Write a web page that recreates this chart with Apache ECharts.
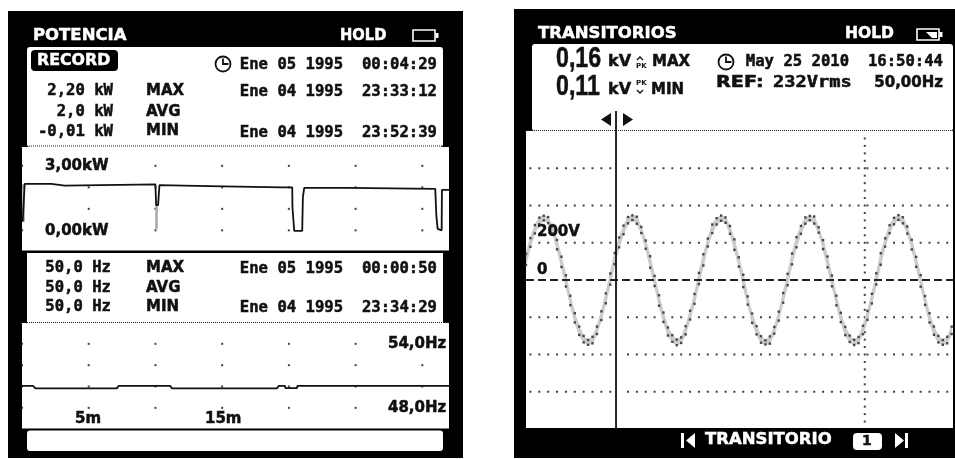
<!DOCTYPE html>
<html>
<head>
<meta charset="utf-8">
<style>html,body{margin:0;padding:0;background:#fff}#c{width:955px;height:459px}</style>
<script src="https://cdn.jsdelivr.net/npm/echarts@6/dist/echarts.min.js"></script>
</head>
<body>
<div id="c"></div>
<script>
// ---- Power trace (minutes, kW)
const kwMinutes = [0.05,0.15,0.2,2.2,2.3,3.2,3.3,10.0,10.05,10.2,10.3,14,19.5,20.25,20.27,20.35,20.4,21.0,21.05,21.15,24.45,24.55,30.97,31.05,31.15,31.25,31.45,31.47,32];
const kwValues  = [0.4,0.4,2.16,2.16,2.08,2.08,2.16,2.14,1.18,1.18,2.1,2.06,2.0,2.0,1.05,1.05,-0.02,-0.02,1.55,1.98,1.98,1.93,1.93,0.7,0.07,0,0,1.88,1.88];
const kwGreyMinutes = [0.12,0.12,null,10.08,10.08];
const kwGreyValues  = [2.16,0.4,null,1.18,0.05];
// ---- Frequency trace (minutes, Hz)
const hzMinutes = [0,0.83,1,7.1,7.25,11.1,11.25,19.1,19.25,19.7,19.75,20.6,20.65,32];
const hzValues  = [50.06,50.06,49.83,49.83,50.06,50.06,49.83,49.83,50.06,50.06,49.85,49.85,50.06,50.06];
// ---- Transient waveform (ms, upper and lower envelope in V)
const waveMs = [];
for (let i = 0; i <= 96; i++) waveMs.push(i);
const waveHi = [140,225,295,335,345,338,288,215,125,25,-85,-178,-250,-300,-322,-305,-250,-168,-72,35,
  145,228,292,338,347,340,285,212,128,22,-82,-175,-255,-296,-320,-308,-248,-165,-75,38,
  138,222,298,332,346,336,290,218,122,28,-88,-180,-248,-302,-324,-303,-252,-170,-70,33,
  142,230,290,336,344,341,283,214,126,24,-84,-176,-252,-298,-321,-306,-246,-166,-74,36,
  144,224,294,334,348,337,287,216,124,26,-86,-178,-250,-300,-322,-305,-250];
const waveLo = [80,178,250,300,320,305,250,165,70,-35,-135,-228,-295,-335,-348,-340,-290,-215,-125,-25,
  85,175,246,304,322,302,252,168,66,-32,-138,-225,-298,-332,-350,-338,-292,-212,-128,-22,
  78,180,252,298,318,307,248,162,72,-38,-132,-230,-292,-337,-346,-342,-288,-218,-122,-28,
  84,176,248,302,321,303,254,166,68,-34,-136,-226,-296,-333,-349,-339,-291,-214,-126,-24,
  82,179,251,299,323,304,249,164,71,-36,-134,-228,-294,-335,-348,-340,-290];
// ---- Axis marks
const gridMinutes = [0,5,10,15,20,25,30];
const kwRows = [3,2,1,0];
const hzRows = [54,52,50,48];
const voltRows = [600,400,200,-200,-400,-600];
const cursorMs = 20.3;
const holdMs = 76.4;

// ---- Text
const texts = {
  leftTitle:'POTENCIA', rightTitle:'TRANSITORIOS', hold:'HOLD', record:'RECORD',
  stamp1:'Ene 05 1995  00:04:29', stamp2:'Ene 04 1995  23:33:12', stamp3:'Ene 04 1995  23:52:39',
  stamp4:'Ene 05 1995  00:00:50', stamp5:'Ene 04 1995  23:34:29', stamp6:'May 25 2010  16:50:44'
};
const powerLabels = ['2,20 kW','2,0 kW','-0,01 kW'];
const freqLabels = ['50,0 Hz','50,0 Hz','50,0 Hz'];
const statLabels = ['MAX','AVG','MIN'];
const kwTicks = ['3,00kW','0,00kW'];
const hzTicks = ['54,0Hz','48,0Hz'];
const timeTicks = ['5m','15m'];
const voltTicks = ['200V','0'];

const MONO = "'DejaVu Sans Mono'";
const SANS = "'DejaVu Sans'";
const INK = '#111';
const g = [];
function rect(x,y,w,h,fill,r,z){g.push({type:'rect',z:z||0,silent:true,shape:{x,y,width:w,height:h,r:r||0},style:{fill}});}
function txt(text,x,y,font,fill,align,sx,boldW){
  const c=fill||INK;
  g.push({type:'text',z:10,silent:true,x,y,scaleX:sx||1,style:{text,font,fill:c,stroke:c,lineWidth:boldW===undefined?0.5:boldW,textAlign:align||'left',textVerticalAlign:'middle'}});
}
function mono(text,x,y){txt(text,x,y,'bold 15.6px '+MONO,INK,'right');}
function sans(text,x,y,size,fill,align){txt(text,x,y,'bold '+size+'px '+SANS,fill,align);}
function poly(points,fill){g.push({type:'polygon',z:11,silent:true,shape:{points},style:{fill}});}
function pline(points,stroke,w,dash){g.push({type:'polyline',z:dash?1:11,silent:true,shape:{points},style:{stroke,fill:null,lineWidth:w,lineDash:dash||null}});}
function clock(cx,cy){
  g.push({type:'circle',z:11,silent:true,shape:{cx,cy,r:7.5},style:{fill:'#fff',stroke:INK,lineWidth:1.8}});
  pline([[cx,cy-5.5],[cx,cy],[cx+5.5,cy]],INK,1.8);
}
function battery(x,y,fillIt){
  g.push({type:'rect',z:11,silent:true,shape:{x,y,width:22,height:11},style:{fill:'#000',stroke:'#fff',lineWidth:1.6}});
  rect(x+22.5,y+3,3,5,'#fff',0,11);
  if(fillIt) poly([[x+9,y+3],[x+20,y+3],[x+20,y+9],[x+15,y+9]],'#fff');
}

// Left instrument
rect(8,11,455,447,'#000');
sans(texts.leftTitle,33,36,16.5,'#fff');
txt(texts.hold,340,36,'bold 15.5px '+SANS,'#fff','left',0.95);
battery(413,30,false);
rect(27,47,416,100,'#fff',3);
rect(31,50,87,21,'#000',4,5);
sans(texts.record,37,61,15.8,'#fff');
clock(223,64);
mono(texts.stamp1,437,65);
mono(texts.stamp2,437,92);
mono(texts.stamp3,437,133);
mono(powerLabels[0],113,91);mono(powerLabels[1],113,112);mono(powerLabels[2],113,132);
statLabels.forEach((s,i)=>sans(s,146,[91,112,131][i],15));
pline([[29,146],[443,146]],'#222',1.2,[1,1]);
rect(22,147,427,103.6,'#fff');
sans(kwTicks[0],45,166,15);sans(kwTicks[1],45,231,15);
rect(27,253,416,70,'#fff');
mono(freqLabels[0],111,268);mono(freqLabels[1],111,288);mono(freqLabels[2],111,307);
statLabels.forEach((s,i)=>sans(s,146,[268,288,307][i],15));
mono(texts.stamp4,437,269);mono(texts.stamp5,437,308);
rect(22,323,427,105.6,'#fff');
pline([[27,322.5],[449,322.5]],'#222',1.2,[1,1]);
sans(hzTicks[0],388,344,15);sans(hzTicks[1],388,408,15);
sans(timeTicks[0],75,419,15);sans(timeTicks[1],205,419,15);
rect(27,430.5,416,20.5,'#fff',3);

// Right instrument
rect(514,9,441,449,'#000');
sans(texts.rightTitle,538,34,16.5,'#fff');
sans(texts.hold,845,34,15.5,'#fff');
battery(917,29,true);
rect(532,44,421,87,'#fff',3);
txt('0,16',556,59,"bold 29px 'Liberation Sans'",INK,'left',0.8);
txt('0,11',556,87,"bold 29px 'Liberation Sans'",INK,'left',0.8);
sans('kV',608,62,16);sans('kV',608,90,16);
txt('PK',636,66,'bold 7px '+SANS,INK,'left',1,0);txt('PK',636,83,'bold 7px '+SANS,INK,'left',1,0);
pline([[637,60],[640,57],[643,60]],INK,1.4);pline([[637,90],[640,93],[643,90]],INK,1.4);
sans(statLabels[0],652,62,15);sans(statLabels[2],651,90,15);
clock(726,62);
mono(texts.stamp6,943,62);
txt('REF:',716,83,'bold 15px '+SANS,INK,'left',1.28);
txt('232Vrms',773,83,'bold 15.6px '+MONO,INK,'left',1.2);
sans('50,00Hz',943,83,15,INK,'right');
poly([[611,113],[611,126],[601,119.5]],INK);
poly([[623,113],[623,126],[633,119.5]],INK);
pline([[526,130.5],[953,130.5]],'#222',1.2,[1,1]);
rect(526,131,427,297,'#fff');
sans(voltTicks[0],537,232,15);sans(voltTicks[1],537,270,15);
rect(853,433,29,17,'#fff',4,5);
sans('1',862,441,14);
sans('TRANSITORIO',705,440,16.5,'#fff');
poly([[695,433],[695,448],[686,440.5]],'#fff');rect(681,433,3,15,'#fff',0,11);
poly([[895,433],[895,448],[904,440.5]],'#fff');rect(905,433,3,15,'#fff',0,11);

// Grid dots, built from the tick arrays
const kwDots=[];gridMinutes.forEach(m=>kwRows.forEach(v=>kwDots.push([m,v])));
const hzDots=[];gridMinutes.forEach(m=>hzRows.forEach(v=>hzDots.push([m,v])));
const voltDots=[];
for(let t=1;t<=96;t+=2){ if(Math.abs(t-cursorMs)>1.3) voltRows.forEach(v=>voltDots.push([t,v])); }
const holdDots=[];for(let v=-760;v<=780;v+=40) holdDots.push([holdMs,v]);

const hiData=waveMs.map((t,i)=>[t,waveHi[i]]);
const loData=waveMs.map((t,i)=>[t,waveLo[i]]);
const zip=(a,b)=>a.map((x,i)=>x===null?[null,null]:[x,b[i]]);
const dot=(xi,yi,data,size,color,z)=>({type:'scatter',xAxisIndex:xi,yAxisIndex:yi,data,symbol:'rect',symbolSize:size||2,itemStyle:{color:color||'#111'},silent:true,z:z||2,animation:false});
const line=(xi,yi,data,color,width,z,dash)=>({type:'line',xAxisIndex:xi,yAxisIndex:yi,data,symbol:'none',connectNulls:false,lineStyle:{color,width,type:dash||'solid'},silent:true,z:z||3,animation:false,clip:false});

const chart=echarts.init(document.getElementById('c'),null,{renderer:'canvas'});
chart.setOption({
  animation:false,
  backgroundColor:'#fff',
  grid:[
    {left:22,top:146.5,width:427,height:103.2},
    {left:22,top:322.5,width:427,height:106.7},
    {left:526,top:131,width:427,height:298}
  ],
  xAxis:[
    {type:'value',gridIndex:0,min:0,max:32,show:false},
    {type:'value',gridIndex:1,min:0,max:32,show:false},
    {type:'value',gridIndex:2,min:0,max:96.3,show:false}
  ],
  yAxis:[
    {type:'value',gridIndex:0,min:-0.9,max:3.9,show:false},
    {type:'value',gridIndex:1,min:46,max:56,show:false},
    {type:'value',gridIndex:2,min:-800,max:800,show:false}
  ],
  graphic:{elements:g},
  series:[
    dot(0,0,kwDots),
    line(0,0,zip(kwGreyMinutes,kwGreyValues),'#aaa',2.5,3),
    line(0,0,zip(kwMinutes,kwValues),'#111',1.8,4),
    dot(1,1,hzDots),
    line(1,1,zip(hzMinutes,hzValues),'#111',1.8,4),
    dot(2,2,voltDots),
    dot(2,2,holdDots),
    {type:'custom',xAxisIndex:2,yAxisIndex:2,z:3,silent:true,animation:false,clip:true,
      data:waveMs.map((t,i)=>[t,waveHi[i],waveLo[i]]),
      renderItem:(p,api)=>{
        const i=p.dataIndex; if(i===0) return null;
        const c=(t,v)=>api.coord([t,v]);
        return {type:'polygon',shape:{points:[c(waveMs[i-1],waveHi[i-1]),c(waveMs[i],waveHi[i]),c(waveMs[i],waveLo[i]),c(waveMs[i-1],waveLo[i-1])]},style:{fill:'#cccccc',stroke:'#cccccc',lineWidth:1}};
      }
    },
    line(2,2,[[0,0],[96.3,0]],'#222',2,4,[8,4]),
    dot(2,2,hiData,2.4,'#222',5),
    dot(2,2,loData,2.4,'#222',5),
    line(2,2,[[cursorMs,-800],[cursorMs,907]],'#111',1.8,6)
  ]
});
</script>
</body>
</html>
